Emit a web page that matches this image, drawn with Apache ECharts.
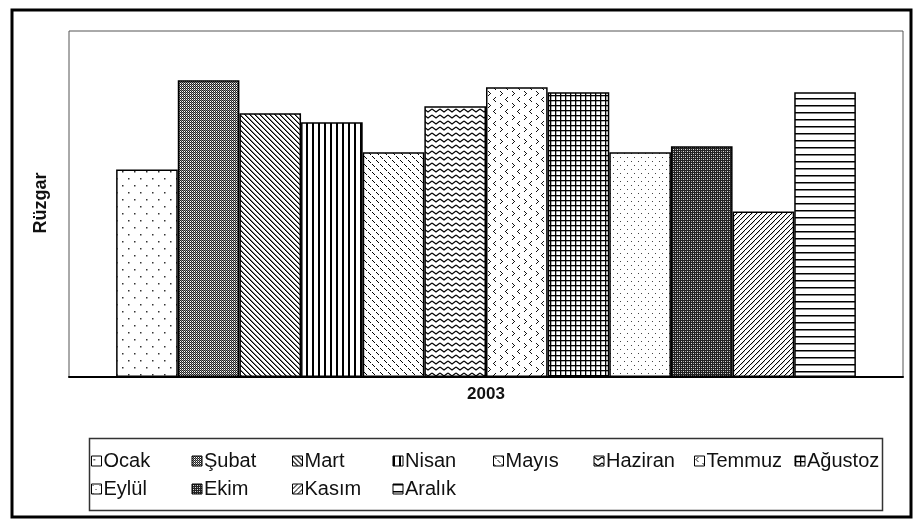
<!DOCTYPE html>
<html><head><meta charset="utf-8">
<script src="https://cdn.jsdelivr.net/npm/echarts@6/dist/echarts.min.js"></script>
<style>html,body{margin:0;padding:0;background:#fff}#c{width:916px;height:522px}</style>
</head><body><div id="c"></div>
<script>
const categories = ['2003'];
const months = ['Ocak','Şubat','Mart','Nisan','Mayıs','Haziran','Temmuz','Ağustoz','Eylül','Ekim','Kasım','Aralık'];
const values = [207, 296, 263, 254, 224, 270, 289, 284, 224, 230, 165, 284];
const yLabel = 'Rüzgar';

function pat(w, h, draw) {
  const c = document.createElement('canvas');
  c.width = w; c.height = h;
  const g = c.getContext('2d');
  g.fillStyle = '#fff'; g.fillRect(0, 0, w, h);
  g.fillStyle = '#000'; g.strokeStyle = '#000';
  draw(g, w, h);
  return { image: c, repeat: 'repeat' };
}
const patterns = [
  pat(12, 14, g => { g.fillStyle = '#333'; g.fillRect(2, 3, 1.5, 1.5); g.fillRect(8, 10, 1.5, 1.5); }),
  pat(2, 2, g => { g.fillStyle = '#222'; g.fillRect(0, 0, 1, 1); g.fillRect(1, 1, 1, 1); g.fillStyle = '#888'; g.fillRect(1, 0, 1, 1); }),
  pat(5, 5, g => { for (let i = 0; i < 5; i++) g.fillRect(i, i, 1, 1); g.fillStyle='#777'; for (let i = 0; i < 5; i++) g.fillRect((i+1)%5, i, 1, 1); }),
  pat(6, 4, g => { g.fillRect(0, 0, 2, 4); }),
  pat(8, 8, g => { g.fillRect(0,0,1,1); g.fillRect(1,1,1,1); g.fillRect(2,2,1,1); g.fillRect(4,4,1,1); g.fillRect(5,5,1,1); g.fillRect(6,6,1,1); }),
  pat(8, 6, g => { g.lineWidth = 1.2; g.beginPath(); g.moveTo(0, 1); g.lineTo(4, 4); g.lineTo(8, 1); g.stroke(); }),
  pat(12, 12, g => { g.fillStyle='#111'; g.fillRect(3,1,1,1); g.fillRect(2,2,1,1); g.fillRect(1,3,1,1); g.fillRect(2,4,1,1); g.fillRect(3,5,1,1); g.fillRect(8,7,1,1); g.fillRect(9,8,1,1); g.fillRect(10,9,1,1); g.fillRect(9,10,1,1); g.fillRect(8,11,1,1); }),
  pat(5, 5, g => { g.fillRect(0, 0, 5, 1.3); g.fillRect(0, 0, 1.3, 5); }),
  pat(7, 8, g => { g.fillStyle = '#444'; g.fillRect(1, 1, 1, 1); g.fillRect(4, 5, 1, 1); }),
  pat(4, 4, g => { g.fillStyle = '#222'; g.fillRect(0, 0, 4, 4); g.fillStyle = '#ddd'; g.fillRect(1, 1, 1, 1); g.fillRect(3, 3, 1, 1); g.fillStyle='#999'; g.fillRect(1,3,1,1); g.fillRect(3,1,1,1); }),
  pat(5, 5, g => { for (let i = 0; i < 5; i++) g.fillRect(4 - i, i, 1.2, 1); }),
  pat(4, 7, g => { g.fillRect(0, 0, 4, 1.5); })
];

const chart = echarts.init(document.getElementById('c'), null, { renderer: 'canvas' });
const series = months.map((m, i) => ({
  name: m,
  type: 'bar',
  data: [values[i]],
  barGap: '0%',
  barCategoryGap: '11.3%',
  itemStyle: { color: patterns[i], borderColor: '#000', borderWidth: 1.5 },
  emphasis: { disabled: true }
}));
const legends = months.map((m, i) => ({
  data: [m],
  left: 91 + (i % 8) * 100.5,
  top: i < 8 ? 451 : 479,
  padding: 0,
  icon: 'rect',
  itemWidth: 10,
  itemHeight: 10,
  itemGap: 3,
  itemStyle: { borderColor: '#000', borderWidth: 1 },
  textStyle: { fontFamily: 'Liberation Sans, Arial', fontSize: 20, color: '#111', padding: [0,0,0,-3] },
  selectedMode: false
}));
chart.setOption({
  animation: false,
  backgroundColor: '#fff',
  grid: { left: 69, top: 31, right: 13, bottom: 145, show: true, borderColor: '#555', borderWidth: 1 },
  xAxis: {
    type: 'category', data: categories,
    axisLine: { lineStyle: { color: '#000', width: 2 } },
    axisTick: { show: false },
    axisLabel: { fontFamily: 'Liberation Sans, Arial', fontWeight: 'bold', fontSize: 17, color: '#111', margin: 9 }
  },
  yAxis: { type: 'value', min: 0, max: 345, show: false, splitLine: { show: false } },
  legend: legends,
  series: series,
  graphic: [
    { type: 'rect', shape: { x: 12, y: 10, width: 899, height: 507 }, style: { fill: 'none', stroke: '#000', lineWidth: 3 }, silent: true },
    { type: 'rect', shape: { x: 89.5, y: 438.5, width: 793, height: 72 }, style: { fill: 'none', stroke: '#333', lineWidth: 1.5 }, silent: true },
    { type: 'text', x: 41, y: 203, rotation: Math.PI / 2, style: { text: yLabel, font: 'bold 18px "Liberation Sans", Arial', fill: '#111', textAlign: 'center', textVerticalAlign: 'middle' }, silent: true }
  ]
});
</script></body></html>
